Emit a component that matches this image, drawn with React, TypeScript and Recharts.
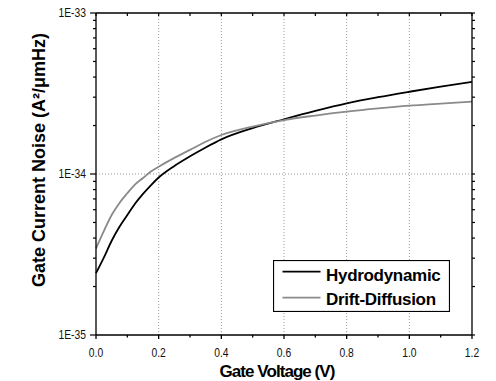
import { Legend, Line, LineChart, ReferenceLine, XAxis, YAxis } from 'recharts'

// gate voltage (V)
const voltage = [0, 0.025, 0.05, 0.075, 0.1, 0.125, 0.15, 0.175, 0.2, 0.25, 0.3, 0.35, 0.4, 0.5, 0.6, 0.7, 0.8, 0.9, 1.0, 1.1, 1.2]

// gate current noise (A^2/umHz)
const hydrodynamic = [
  2.42e-35, 3.02e-35, 3.85e-35, 4.7e-35, 5.56e-35, 6.56e-35, 7.53e-35, 8.51e-35, 9.51e-35, 1.122e-34, 1.288e-34,
  1.462e-34, 1.641e-34, 1.928e-34, 2.188e-34, 2.466e-34, 2.748e-34, 3.0e-34, 3.243e-34, 3.49e-34, 3.74e-34,
]
const driftDiffusion = [
  3.45e-35, 4.42e-35, 5.56e-35, 6.61e-35, 7.59e-35, 8.61e-35, 9.44e-35, 1.035e-34, 1.109e-34, 1.259e-34, 1.413e-34,
  1.585e-34, 1.746e-34, 1.972e-34, 2.163e-34, 2.307e-34, 2.438e-34, 2.553e-34, 2.655e-34, 2.735e-34, 2.812e-34,
]

const seriesNames = ['Hydrodynamic', 'Drift-Diffusion']
const xTicks = [0, 0.1, 0.2, 0.3, 0.4, 0.5, 0.6, 0.7, 0.8, 0.9, 1.0, 1.1, 1.2]
const xGrid = [0.2, 0.4, 0.6, 0.8, 1.0]
const yDecades = [1e-35, 1e-34, 1e-33]
const yMinorSteps = [2, 3, 4, 5, 6, 7, 8, 9]
const yGrid = [1e-34]

const data = voltage.map((v, i) => ({ v, hd: hydrodynamic[i], dd: driftDiffusion[i] }))
const yTicks = yDecades.flatMap((d, i) => (i < yDecades.length - 1 ? [d, ...yMinorSteps.map((m) => m * d)] : [d]))

const FONT = '"Liberation Sans", Arial, sans-serif'
const AXIS_LINE = { stroke: '#000', strokeWidth: 1.3 }

const isMajorX = (v: number) => Math.round(v * 10) % 2 === 0
const isDecade = (v: number) => {
  const e = Math.log10(v)
  return Math.abs(e - Math.round(e)) < 1e-6
}

// tick mark + optional label, drawn from the axis-line coordinate (tickSize = tickMargin = 0)
const bottomTick = (p: any) => {
  const major = isMajorX(p.payload.value)
  return (
    <g>
      <rect x={p.x - 0.65} y={p.y} width={1.3} height={major ? 4 : 2.5} fill="#000" />
      {major && (
        <text
          transform={`translate(${p.x},${p.y + 21.5}) scale(0.86,1)`}
          textAnchor="middle"
          fontFamily={FONT}
          fontSize={12}
          fill="#111"
        >
          {Number(p.payload.value).toFixed(1)}
        </text>
      )}
    </g>
  )
}

// top and right edges mirror the frame: short marks, top ones pointing in
const topTick = (p: any) => <rect x={p.x - 0.6} y={p.y} width={1.2} height={3} fill="#000" />
const rightTick = (p: any) => <rect x={p.x} y={p.y - 0.6} width={3} height={1.2} fill="#000" />

const leftTick = (p: any) => {
  const major = isDecade(p.payload.value)
  const len = major ? 6 : 3
  return (
    <g>
      <rect x={p.x - len} y={p.y - 0.6} width={len} height={1.2} fill="#000" />
      {major && (
        <text
          transform={`translate(${p.x - 10},${p.y + 4}) scale(0.86,1)`}
          textAnchor="end"
          fontFamily={FONT}
          fontSize={12}
          fill="#111"
        >
          {`1E${Math.round(Math.log10(p.payload.value))}`}
        </text>
      )}
    </g>
  )
}

function YTitle({ viewBox }: any) {
  const vb = viewBox ?? { x: 0, y: 13, width: 96, height: 322 }
  const cx = vb.x + vb.width - 51
  const cy = vb.y + vb.height / 2 - 14
  return (
    <text
      x={cx}
      y={cy}
      transform={`rotate(-90,${cx},${cy})`}
      textAnchor="middle"
      fontFamily={FONT}
      fontSize={18}
      fontWeight="bold"
      fill="#000"
    >
      Gate Current Noise (A²/μmHz)
    </text>
  )
}

function XTitle({ viewBox }: any) {
  const vb = viewBox ?? { x: 96, y: 335, width: 376, height: 40 }
  return (
    <text
      x={vb.x + vb.width / 2 - 7}
      y={vb.y + 41.5}
      textAnchor="middle"
      fontFamily={FONT}
      fontSize={17}
      fontWeight="bold"
      letterSpacing={-0.95}
      fill="#000"
    >
      Gate Voltage (V)
    </text>
  )
}

function LegendBox({ payload }: any) {
  const items = [...(payload ?? [])].sort((a: any, b: any) => seriesNames.indexOf(a.value) - seriesNames.indexOf(b.value))
  return (
    <svg width={177} height={52} style={{ display: 'block' }}>
      <rect x={0.5} y={0.5} width={176} height={51} fill="#fff" stroke="#000" strokeWidth={1.2} />
      {items.map((item: any, i: number) => (
        <g key={item.value}>
          <line x1={9.5} x2={47.5} y1={11.7 + i * 26} y2={11.7 + i * 26} stroke={item.color} strokeWidth={1.8} />
          <text
            x={53}
            y={20.7 + i * 24.5}
            fontFamily={FONT}
            fontSize={17}
            fontWeight="bold"
            letterSpacing={-0.3}
            fill="#000"
          >
            {item.value}
          </text>
        </g>
      ))}
    </svg>
  )
}

export default function App() {
  return (
    <div style={{ position: 'absolute', left: 0, top: 0, width: 496, height: 381, background: '#fff' }}>
      <LineChart width={496} height={381} data={data} margin={{ top: 8, right: 14, bottom: 6, left: 0 }}>
        <XAxis
          xAxisId="bottom"
          dataKey="v"
          type="number"
          domain={[0, 1.2]}
          ticks={xTicks}
          interval={0}
          height={40}
          tickSize={0}
          tickMargin={0}
          tickLine={false}
          tick={bottomTick}
          axisLine={AXIS_LINE}
          label={<XTitle />}
        />
        <XAxis
          xAxisId="top"
          orientation="top"
          dataKey="v"
          type="number"
          domain={[0, 1.2]}
          ticks={xTicks}
          interval={0}
          height={5}
          tickSize={0}
          tickMargin={0}
          tickLine={false}
          tick={topTick}
          axisLine={AXIS_LINE}
        />
        <YAxis
          yAxisId="left"
          scale="log"
          domain={[1e-35, 1e-33]}
          allowDataOverflow
          ticks={yTicks}
          interval={0}
          width={96}
          tickSize={0}
          tickMargin={0}
          tickLine={false}
          tick={leftTick}
          axisLine={AXIS_LINE}
          label={<YTitle />}
        />
        <YAxis
          yAxisId="right"
          orientation="right"
          scale="log"
          domain={[1e-35, 1e-33]}
          allowDataOverflow
          ticks={yTicks}
          interval={0}
          width={10}
          tickSize={0}
          tickMargin={0}
          tickLine={false}
          tick={rightTick}
          axisLine={AXIS_LINE}
        />
        {xGrid.map((g) => (
          <ReferenceLine key={g} x={g} xAxisId="bottom" yAxisId="left" stroke="#999" strokeDasharray="1 2" />
        ))}
        {yGrid.map((g) => (
          <ReferenceLine key={g} y={g} xAxisId="bottom" yAxisId="left" stroke="#999" strokeDasharray="1 2" />
        ))}
        <Legend
          layout="vertical"
          align="center"
          verticalAlign="middle"
          content={<LegendBox />}
          wrapperStyle={{ left: 273, top: 260, width: 177, height: 52 }}
        />
        <Line
          xAxisId="bottom"
          yAxisId="left"
          type="monotone"
          dataKey="hd"
          name={seriesNames[0]}
          stroke="#000"
          strokeWidth={1.8}
          dot={false}
          isAnimationActive={false}
        />
        <Line
          xAxisId="bottom"
          yAxisId="left"
          type="monotone"
          dataKey="dd"
          name={seriesNames[1]}
          stroke="#8a8a8a"
          strokeWidth={1.8}
          dot={false}
          isAnimationActive={false}
        />
      </LineChart>
    </div>
  )
}
